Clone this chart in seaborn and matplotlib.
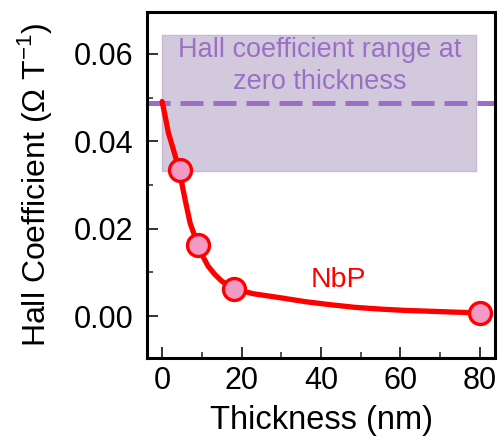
import matplotlib
matplotlib.use("Agg")
import matplotlib.pyplot as plt
import pandas as pd
import seaborn as sns
from matplotlib.ticker import MultipleLocator, FormatStrFormatter

# Measured Hall coefficient of NbP films
thickness_nm = [4.5, 9.0, 18.1, 80.0]
hall_coeff = [0.0334, 0.0163, 0.0062, 0.0007]

# Fitted trend through the measurements
fit_thickness = [0.0, 0.8, 1.6, 2.85, 4.3, 5.8, 7.05, 9.0, 10.3, 11.6, 13.2, 15.0,
                 18.1, 23.0, 29.7, 36.0, 42.3, 48.5, 54.8, 61.0, 67.4, 73.7, 80.0]
fit_hall = [0.0491, 0.0456, 0.0419, 0.0381, 0.0334, 0.0266, 0.0213, 0.0163,
            0.0136, 0.0114, 0.0096, 0.0080, 0.0062, 0.0051, 0.0042, 0.0033,
            0.0026, 0.0020, 0.0016, 0.0013, 0.0011, 0.0009, 0.0007]

# Zero-thickness estimate and its range
zero_thickness_value = 0.0488
zero_range_low = 0.0333
zero_range_high = 0.0643
range_x = [0.0, 79.0]

sns.set_theme(style="ticks")
plt.rcParams["font.family"] = ["Liberation Sans", "DejaVu Sans"]
plt.rcParams.update({"text.color": "black", "axes.labelcolor": "black",
                     "xtick.color": "black", "ytick.color": "black"})

fig = plt.figure(figsize=(4.99, 4.37), dpi=100)
ax = fig.add_axes([0.2946, 0.1808, 0.6974, 0.7917])

purple = "#9b6fc6"
red = "#ff0000"

ax.fill_between(range_x, zero_range_low, zero_range_high,
                facecolor="#d3c9dd", edgecolor="#c8bad6", linewidth=1.0, zorder=1)
ax.axhline(zero_thickness_value, color=purple, lw=3.6, dashes=(4.6, 2.0), zorder=2)

fit_df = pd.DataFrame({"t": fit_thickness, "r": fit_hall})
sns.lineplot(data=fit_df, x="t", y="r", ax=ax, color=red, lw=3.8,
             sort=True, estimator=None, zorder=3)

pts_df = pd.DataFrame({"t": thickness_nm, "r": hall_coeff})
sns.scatterplot(data=pts_df, x="t", y="r", ax=ax, s=250, color="#f29ac4",
                edgecolor=red, linewidth=2.4, zorder=4)

ax.text(39.7, 0.0609, "Hall coefficient range at", color=purple,
        fontsize=19.5, ha="center", va="center", zorder=5)
ax.text(39.7, 0.0536, "zero thickness", color=purple,
        fontsize=19.5, ha="center", va="center", zorder=5)
ax.text(44.3, 0.0083, "NbP", color=red, fontsize=20.5, ha="center", va="center", zorder=5)

ax.set_xlim(-3.8, 83.8)
ax.set_ylim(-0.0096, 0.0696)
ax.xaxis.set_major_locator(MultipleLocator(20))
ax.xaxis.set_minor_locator(MultipleLocator(10))
ax.yaxis.set_major_locator(MultipleLocator(0.02))
ax.yaxis.set_minor_locator(MultipleLocator(0.01))
ax.yaxis.set_major_formatter(FormatStrFormatter("%.2f"))

ax.tick_params(which="major", direction="in", length=8, width=1.3, labelsize=22,
               color="#222222")
ax.tick_params(axis="y", which="major", pad=10)
ax.tick_params(axis="x", which="major", pad=6)
ax.tick_params(which="minor", direction="in", length=4, width=1.1, color="#222222")
for s in ax.spines.values():
    s.set_linewidth(2.2)
    s.set_color("black")

ax.set_xlabel("Thickness (nm)", fontsize=23.5, labelpad=6)
ax.set_ylabel("Hall Coefficient (Ω T$^{\\mathregular{-1}}$)", fontsize=23, labelpad=14)

fig.savefig("out.png", dpi=100)
